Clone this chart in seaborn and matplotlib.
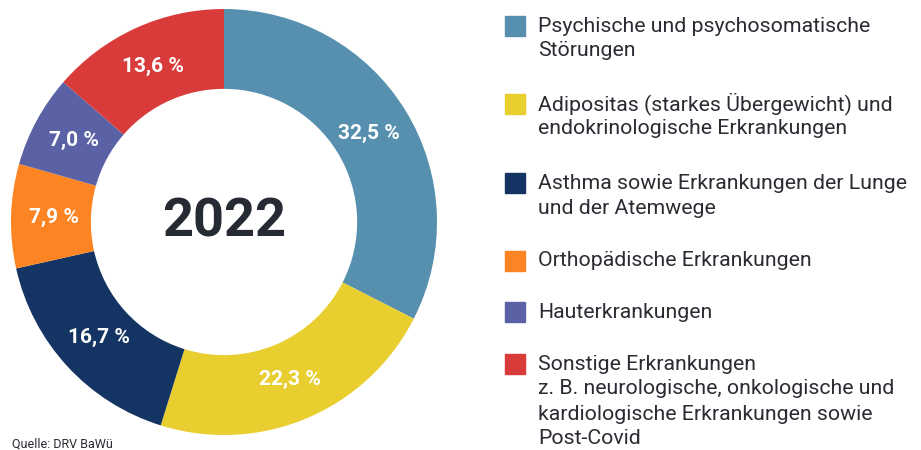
import matplotlib
matplotlib.use("Agg")
import matplotlib.pyplot as plt
import seaborn as sns
import numpy as np
from matplotlib.patches import Rectangle

categories = [
    "Psychische und psychosomatische\nStörungen",
    "Adipositas (starkes Übergewicht) und\nendokrinologische Erkrankungen",
    "Asthma sowie Erkrankungen der Lunge\nund der Atemwege",
    "Orthopädische Erkrankungen",
    "Hauterkrankungen",
    "Sonstige Erkrankungen\nz. B. neurologische, onkologische und\nkardiologische Erkrankungen sowie\nPost-Covid",
]
shares = [32.5, 22.3, 16.7, 7.9, 7.0, 13.6]
colors = ["#5790AF", "#E9CE2F", "#143564", "#FD8422", "#5A62A5", "#D93B3B"]
year = "2022"
source = "Quelle: DRV BaWü"

sns.set_theme(style="white")
plt.rcParams["font.family"] = ["Roboto", "DejaVu Sans"]
text_col = "#2B2B33"

fig = plt.figure(figsize=(9.21, 4.5), dpi=100)
fig.patch.set_facecolor("white")

# donut
ax = fig.add_axes([(224 - 213) / 921, (450 - 222 - 213) / 450, 426 / 921, 426 / 450])
palette = sns.color_palette(colors)
wedges, _ = ax.pie(shares, colors=palette, startangle=90, counterclock=False,
                   radius=1.0, wedgeprops=dict(width=0.375, linewidth=0))
ax.set_aspect("equal")
ax.set_xlim(-1, 1)
ax.set_ylim(-1, 1)

cum = np.cumsum([0] + shares)
for i, v in enumerate(shares):
    mid = (cum[i] + v / 2) / 100 * 2 * np.pi
    r = 0.80
    ax.text(r * np.sin(mid), r * np.cos(mid), f"{v:.1f} %".replace(".", ","),
            ha="center", va="center", color="white", fontsize=15, fontweight="bold")

ax.text(0, 0, year, ha="center", va="center", fontsize=39, fontweight="bold",
        color="#262A33")

# legend drawn by hand so the squares line up with the first text line
first_line_y = [26, 104, 183, 261, 312, 364]
line_h = 25
for cat, col, y0 in zip(categories, colors, first_line_y):
    fig.patches.append(Rectangle((505 / 921, 1 - (y0 + 10) / 450), 20 / 921, 20 / 450,
                                 transform=fig.transFigure, color=col, figure=fig))
    for j, line in enumerate(cat.split("\n")):
        fig.text(538 / 921, 1 - (y0 + j * line_h) / 450, line, ha="left", va="center",
                 fontsize=15.3, color=text_col)

fig.text(12 / 921, 1 - 444 / 450, source, ha="left", va="center", fontsize=9,
         color=text_col)

fig.savefig("out.png", dpi=100, facecolor="white")
